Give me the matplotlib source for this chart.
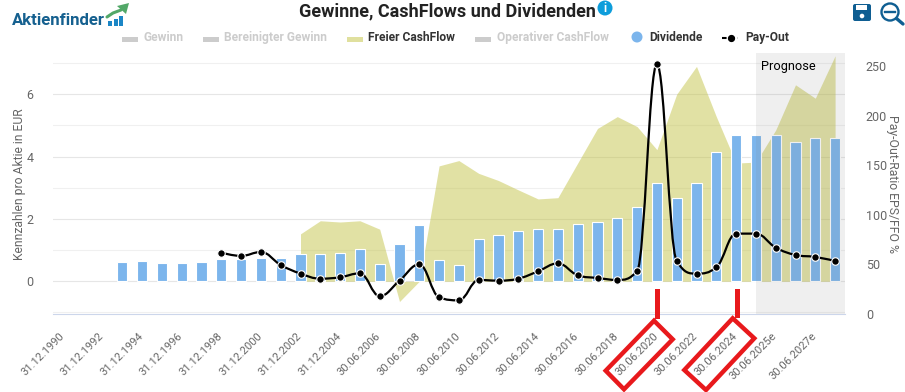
import numpy as np
import matplotlib
matplotlib.use("Agg")
import matplotlib.pyplot as plt
from matplotlib.path import Path
from matplotlib.patches import PathPatch, Polygon, Rectangle, Circle, FancyBboxPatch
from matplotlib.transforms import ScaledTranslation

plt.rcParams['font.family'] = ['Roboto', 'DejaVu Sans']

# x-labels, every second category is labelled
tick_labels = ["31.12.1990", "31.12.1992", "31.12.1994", "31.12.1996", "31.12.1998",
               "31.12.2000", "31.12.2002", "31.12.2004", "30.06.2006", "30.06.2008",
               "30.06.2010", "30.06.2012", "30.06.2014", "30.06.2016", "30.06.2018",
               "30.06.2020", "30.06.2022", "30.06.2024", "30.06.2025e", "30.06.2027e"]

# dividend per share, categories 3..39
dividende = [0.63, 0.66, 0.60, 0.60, 0.63, 0.70, 0.72, 0.76, 0.76, 0.86, 0.86, 0.92, 1.03,
             0.55, 1.21, 1.79, 0.67, 0.51, 1.35, 1.48, 1.60, 1.67, 1.67, 1.83, 1.89, 2.04,
             2.37, 3.14, 2.68, 3.14, 4.14, 4.70, 4.70, 4.70, 4.45, 4.58, 4.61]

# free cash flow per share, categories 12..39
freier_cf = [1.52, 1.94, 1.90, 1.94, 1.67, -0.65, 0.0, 3.70, 3.87, 3.46, 3.23, 2.93, 2.64,
             2.68, 3.79, 4.90, 5.28, 4.96, 4.22, 6.00, 6.89, 5.28, 3.79, 3.82, 4.85, 6.30,
             5.87, 7.23]

# payout ratio in %, categories 8..39
payout = [61.8, 58.5, 62.5, 49.4, 40.7, 35.6, 37.0, 41.0, 18.0, 33.6, 50.0, 16.8, 13.8,
          34.3, 33.6, 35.6, 43.0, 51.0, 39.0, 36.3, 34.3, 43.3, 251.7, 53.4, 40.7, 47.0,
          81.0, 81.0, 66.9, 59.5, 57.5, 53.4]

N_CAT = 40
DIV_START = 3
CF_START = 12
PAY_START = 8
FORECAST_START = 35

W, H = 905, 392
TXT = "#666666"


def spline_path(xs, ys, smooth=1.5):
    # same smoothing the original chart library uses for its spline lines
    verts = [(xs[0], ys[0])]
    codes = [Path.MOVETO]
    prev_right = (xs[0], ys[0])
    n = len(xs)
    for i in range(1, n):
        x, y = xs[i], ys[i]
        if i < n - 1:
            lx = (smooth * x + xs[i - 1]) / (smooth + 1)
            ly = (smooth * y + ys[i - 1]) / (smooth + 1)
            rx = (smooth * x + xs[i + 1]) / (smooth + 1)
            ry = (smooth * y + ys[i + 1]) / (smooth + 1)
            corr = (ry - ly) * (rx - x) / (rx - lx) + y - ry
            ly += corr
            ry += corr
            if ly > ys[i - 1] and ly > y:
                ly = max(ys[i - 1], y)
                ry = 2 * y - ly
            elif ly < ys[i - 1] and ly < y:
                ly = min(ys[i - 1], y)
                ry = 2 * y - ly
            if ry > ys[i + 1] and ry > y:
                ry = max(ys[i + 1], y)
                ly = 2 * y - ry
            elif ry < ys[i + 1] and ry < y:
                ry = min(ys[i + 1], y)
                ly = 2 * y - ry
        else:
            lx, ly, rx, ry = x, y, x, y
        verts += [prev_right, (lx, ly), (x, y)]
        codes += [Path.CURVE4] * 3
        prev_right = (rx, ry)
    return Path(verts, codes)


fig = plt.figure(figsize=(W / 100, H / 100), dpi=100)
ax = fig.add_axes([53 / W, 1 - 314 / H, 792 / W, 261 / H])

# Cash flow area
x_cf = np.arange(CF_START, N_CAT)
ax.fill_between(x_cf, 0, freier_cf, color="#c4c44a", alpha=0.5, lw=0, zorder=2)

# Dividend bars
x_div = np.arange(DIV_START, N_CAT)
ax.bar(x_div, dividende, width=0.52, color="#7cb5ec", edgecolor="white", linewidth=0.8, zorder=3)

# Forecast band sits on top of the bars
ax.axvspan(FORECAST_START, N_CAT - 0.5, color="#808080", alpha=0.12, lw=0, zorder=4)
ax.text(FORECAST_START + 0.25, 6.9, "Prognose", fontsize=9.2, color="black", va="center", zorder=5)

ax.set_xlim(-0.5, N_CAT - 0.5)
ax.set_ylim(-1.05, 7.32)
ax.set_yticks([0, 2, 4, 6])
ax.set_yticks([-1, 1, 3, 5, 7], minor=True)
ax.grid(True, which="major", axis="y", color="#e6e6e6", lw=0.8, zorder=0)
ax.grid(True, which="minor", axis="y", color="#f0f0f0", lw=0.8, zorder=0)
ax.set_axisbelow(True)
ax.tick_params(axis="y", which="both", length=0)
ax.tick_params(axis="y", which="major", labelsize=9, labelcolor=TXT, pad=14)
ax.set_xticks(np.arange(0, N_CAT, 2))
ax.set_xticklabels(tick_labels, rotation=45, ha="right", va="top", rotation_mode="anchor",
                   fontsize=8.0, color=TXT)
ax.tick_params(axis="x", length=0, pad=12)
for lab in ax.get_xticklabels():
    lab.set_transform(lab.get_transform() + ScaledTranslation(-4 / 100, 0, fig.dpi_scale_trans))
for s in ["top", "left", "right"]:
    ax.spines[s].set_visible(False)
ax.spines["bottom"].set_color("#ccd6eb")

# Payout line on right axis
ax2 = ax.twinx()
ax2.set_ylim(0, 263)
ax2.set_yticks([0, 50, 100, 150, 200, 250])
ax2.tick_params(axis="y", length=0, labelsize=9, labelcolor=TXT, pad=15)
for s in ax2.spines.values():
    s.set_visible(False)
x_pay = np.arange(PAY_START, N_CAT)
ax2.add_patch(PathPatch(spline_path(list(x_pay), payout), fc="none", ec="black", lw=1.6, zorder=5))
ax2.plot(x_pay, payout, ls="none", marker="o", ms=5.4, mfc="black", mec="white", mew=0.8, zorder=6)

# Everything else is placed in picture pixels
ov = fig.add_axes([0, 0, 1, 1], zorder=10)
ov.set_xlim(0, W)
ov.set_ylim(H, 0)
ov.axis("off")
ov.patch.set_alpha(0)

ov.text(19, 184, "Kennzahlen pro Aktie in EUR", rotation=90, fontsize=8.7, color=TXT,
        ha="center", va="center")
ov.text(892, 184, "Pay-Out-Ratio EPS/FFO %", rotation=270, fontsize=8.8, color=TXT,
        ha="center", va="center")

ov.text(447.5, 11, "Gewinne, CashFlows und Dividenden", fontsize=13, fontweight="bold",
        color="#222222", ha="center", va="center")

# Legend
hidden = "#cccccc"
for x0, x_txt, label, col, tcol in [(122, 143, "Gewinn", hidden, hidden),
                                    (203, 224, "Bereinigter Gewinn", hidden, hidden),
                                    (347, 368, "Freier CashFlow", "#e0e09e", "#333333"),
                                    (475, 497, "Operativer CashFlow", hidden, hidden)]:
    ov.add_patch(Rectangle((x0, 37), 16, 4.5, color=col, lw=0))
    ov.text(x_txt, 37.5, label, fontsize=8.65, fontweight="bold", color=tcol, va="center")
ov.add_patch(Circle((637, 37), 5.5, color="#7cb5ec", lw=0))
ov.text(649, 37.5, "Dividende", fontsize=8.65, fontweight="bold", color="#333333", va="center")
ov.plot([722, 738], [38, 38], color="black", lw=1.5, ls=(0, (2.2, 1.6)))
ov.plot([731], [38], marker="o", ms=4.2, color="black")
ov.text(745, 37.5, "Pay-Out", fontsize=8.65, fontweight="bold", color="#333333", va="center")

# Logo
ov.text(12, 20, "Aktienfinder", fontsize=12.1, fontweight="bold", color="#15608f", va="center")
for bx, top in [(108, 21), (113.5, 19), (119, 16)]:
    ov.add_patch(Rectangle((bx, top), 4.2, 26 - top, color="#1b86c6", lw=0))
ov.plot([107, 113, 121], [17, 13, 10], color="#52a868", lw=2.2, solid_capstyle="round")
ov.add_patch(Polygon([(117, 6), (129, 3), (126, 14)], color="#52a868", lw=0))

# Info icon
ov.add_patch(Circle((605, 8), 7.5, color="#0d9ddb", lw=0))
ov.text(605, 8.2, "i", fontsize=8.5, fontweight="bold", color="white", ha="center", va="center")

# Save icon
ov.add_patch(FancyBboxPatch((853, 4), 18, 17, boxstyle="round,pad=0,rounding_size=2",
                            fc="#0f5e92", ec="none"))
ov.add_patch(Rectangle((856, 5), 11, 5, color="white", lw=0))
ov.add_patch(Circle((862, 16), 2.3, color="white", lw=0))

# Zoom-out icon
ov.add_patch(Circle((890, 12), 8.5, fc="none", ec="#0f5e92", lw=1.7))
ov.plot([885, 895], [12, 12], color="#0f5e92", lw=1.7)
ov.plot([896.5, 903], [18.5, 24], color="#0f5e92", lw=2.4, solid_capstyle="round")

# Red hand-drawn highlights
RED = "#e8191c"
ov.add_patch(Rectangle((654.5, 289), 5, 30, color=RED, lw=0))
ov.add_patch(Rectangle((734.5, 289), 5, 29, color=RED, lw=0))
ov.add_patch(Polygon([(654, 320.7), (672.7, 339.3), (624, 389.3), (605.7, 370.7)],
                     closed=True, fc="none", ec=RED, lw=3.2))
ov.add_patch(Polygon([(732.7, 318.3), (754.3, 338.3), (706, 390), (684.3, 370)],
                     closed=True, fc="none", ec=RED, lw=3.2))

fig.savefig("out.png", dpi=100)
